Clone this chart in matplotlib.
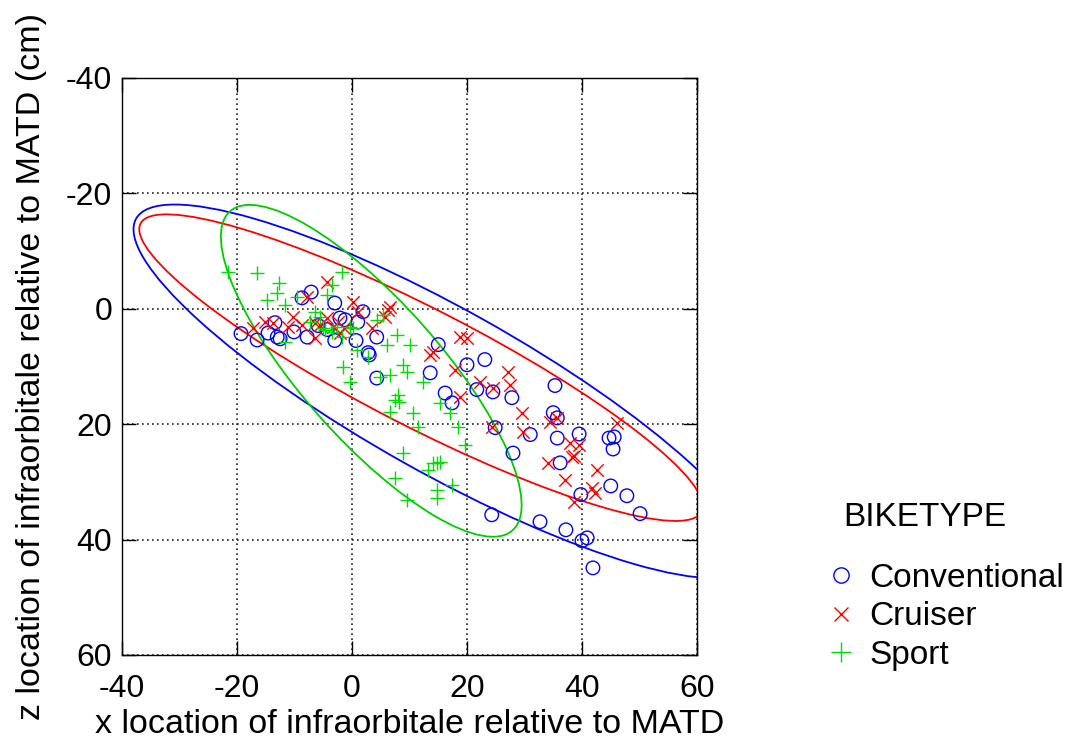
import numpy as np
import matplotlib
matplotlib.use("Agg")
import matplotlib.pyplot as plt
from matplotlib.patches import Ellipse
from matplotlib.lines import Line2D

plt.rcParams['font.family'] = ['Liberation Sans', 'DejaVu Sans']
plt.rcParams['axes.unicode_minus'] = False

# ---------------- data ----------------
conv_x = [-19.3, -16.5, -14.6, -13.4, -13.0, -12.5, -10.1, -8.7, -7.1, -7.8, -5.9, -4.3,
          -3.0, -3.0, -2.1, -1.2, 1.0, 1.9, 0.7, 2.8, 3.0, 4.3, 4.3,
          15.0, 13.6, 20.0, 23.1, 16.2, 17.4, 21.7, 24.5, 27.8, 24.9, 31.0, 28.0, 24.3, 32.7,
          35.3, 35.0, 35.7, 35.7, 39.5, 36.2, 44.7, 45.6, 45.4, 45.0, 47.8, 50.1, 39.8,
          37.2, 40.0, 40.9, 41.9]
conv_z = [4.3, 5.4, 4.2, 2.4, 4.9, 5.2, 4.0, -1.9, -2.9, 4.9, 2.9, 3.6,
          -1.0, 5.5, 1.6, 1.9, 2.3, 0.5, 5.5, 7.6, 8.0, 4.9, 12.0,
          6.2, 11.1, 9.7, 8.8, 14.6, 16.3, 14.0, 14.4, 15.4, 20.6, 21.8, 25.0, 35.7, 36.9,
          13.3, 18.0, 18.9, 22.4, 21.7, 26.7, 22.4, 22.2, 24.3, 30.7, 32.4, 35.5, 32.2,
          38.3, 40.2, 39.7, 44.9]

cruiser_x = [-17.2, -15.1, -13.7, -11.1, -10.3, -8.7, -7.8, -4.3, -6.4, -6.4, -5.6, -4.3,
             -3.3, -2.4, -2.1, -1.4, 0.2, 1.0, 3.5, 5.7, 6.3, 6.6,
             18.8, 20.0, 13.6, 14.1, 17.9, 22.3, 18.8, 24.5, 27.1, 27.5, 29.6, 24.3, 29.7,
             34.1, 34.4, 35.7, 37.0, 37.9, 39.5, 38.3, 38.6, 42.6, 41.7, 42.3, 38.6, 46.1]
cruiser_z = [3.3, 2.3, 2.4, 3.1, 1.4, 2.8, -2.1, -4.7, 5.0, 2.4, 2.8, 1.6,
             3.1, 2.3, 4.2, 3.3, -1.2, 0.5, 3.3, 1.4, 0.2, -0.3,
             4.9, 5.0, 8.0, 7.5, 10.6, 12.7, 15.3, 13.7, 10.9, 13.2, 18.0, 20.5, 21.3,
             26.7, 19.6, 18.9, 29.6, 23.2, 23.6, 25.6, 25.5, 27.9, 31.0, 31.9, 33.4, 19.8]

sport_x = [-21.6, -16.5, -12.7, -13.0, -14.8, -11.7, -9.6, -6.4, -1.7, -3.5, -4.3, -5.6,
           -5.0, -11.7, 0.9, -1.6, -0.3, 4.9, 4.3, -7.3, -4.7, -3.5, -2.6, -1.7, -0.3, 0.2,
           5.4, 7.8, 6.1, 10.1, 2.8, 8.9, 9.6, 6.6, 8.0, 7.5, 8.2, 6.6, 10.6,
           12.3, 15.3, 17.0, 11.5, 18.4, 19.7, 8.9, 14.1, 14.8, 15.3, 13.2, 7.5, 17.4,
           14.8, 14.8, 9.6]
sport_z = [-6.4, -6.2, -4.5, -2.8, -1.6, -0.7, -2.1, 0.5, -6.4, -4.2, -2.4, 1.4,
           3.3, 5.7, 7.1, 10.1, 12.7, 11.8, 1.9, 2.3, 3.6, 4.0, 3.1, 4.9, 3.1, 3.3,
           1.0, 4.5, 6.2, 6.2, 8.3, 9.7, 10.9, 11.4, 14.9, 15.8, 16.1, 17.9, 18.0,
           12.7, 16.3, 18.0, 20.5, 20.5, 23.6, 25.0, 26.7, 26.7, 26.5, 27.9, 29.3, 30.5,
           31.4, 32.8, 33.1]

# ellipse parameters: centre and covariance-like shape (Conventional, Cruiser, Sport)
ell_cx = [16.0, 12.0, 3.35]
ell_cz = [14.3, 10.2, 10.75]
ell_sxx = [2916.0, 2401.0, 684.0]
ell_sxz = [1516.0, 1176.0, 608.0]
ell_szz = [1048.0, 706.0, 827.0]

groups = ['Conventional', 'Cruiser', 'Sport']
legend_title = 'BIKETYPE'
x_ticks = [-40, -20, 0, 20, 40, 60]
z_ticks = [-40, -20, 0, 20, 40, 60]

# ---------------- styles ----------------
BLUE = '#0000FF'
RED = '#FF0000'
GREEN = '#00CC00'
MGREEN = '#00DD00'
FS = 24
LFS = 24.5
TFS = 23

fig = plt.figure(figsize=(10.74, 7.40), dpi=100)
ax = fig.add_axes([122/1074, 1-655/740, (697-122)/1074, (655-78)/740])

ax.set_xlim(-40, 60)
ax.set_ylim(60, -40)
ax.set_xticks(x_ticks)
ax.set_yticks(z_ticks)
ax.grid(True, linestyle=(0, (1, 2)), color='#222222', linewidth=1.2)
ax.set_axisbelow(True)
ax.tick_params(direction='in', length=10, width=1, top=True, right=True,
               labelsize=TFS)
ax.tick_params(axis='x', pad=14)
ax.tick_params(axis='y', pad=7)
for sp in ax.spines.values():
    sp.set_linewidth(1.0)
    sp.set_color('black')

# ellipses
colors = [BLUE, RED, GREEN]
for i in range(3):
    S = np.array([[ell_sxx[i], ell_sxz[i]], [ell_sxz[i], ell_szz[i]]])
    vals, vecs = np.linalg.eigh(S)
    order = np.argsort(vals)[::-1]
    vals = vals[order]
    vecs = vecs[:, order]
    ang = np.degrees(np.arctan2(vecs[1, 0], vecs[0, 0]))
    e = Ellipse((ell_cx[i], ell_cz[i]), 2*np.sqrt(vals[0]), 2*np.sqrt(vals[1]),
                angle=ang, fill=False, edgecolor=colors[i], linewidth=1.3, zorder=3)
    ax.add_patch(e)

ax.scatter(conv_x, conv_z, s=95, facecolors='none', edgecolors=BLUE, linewidths=1.0, zorder=4)
ax.scatter(cruiser_x, cruiser_z, s=80, marker='x', color=RED, linewidths=1.0, zorder=4)
ax.scatter(sport_x, sport_z, s=110, marker='+', color=MGREEN, linewidths=1.0, zorder=4)

ax.set_xlabel('x location of infraorbitale relative to MATD', fontsize=LFS, labelpad=3)
ax.set_ylabel('z location of infraorbitale relative to MATD (cm)', fontsize=LFS, labelpad=14)

handles = [
    Line2D([], [], linestyle='none', marker='o', markersize=11, markerfacecolor='none',
           markeredgecolor=BLUE, markeredgewidth=1.0),
    Line2D([], [], linestyle='none', marker='x', markersize=10, color=RED, markeredgewidth=1.0),
    Line2D([], [], linestyle='none', marker='+', markersize=14, color=MGREEN, markeredgewidth=1.0),
]
fig.text(843/1074, 1-517/740, legend_title, fontsize=FS, ha='left', va='center')
leg = fig.legend(handles, groups, loc='upper left',
                 bbox_to_anchor=(828/1074, 1-563/740), frameon=False, fontsize=FS,
                 handlelength=0.8, handletextpad=0.45, borderpad=0, borderaxespad=0,
                 labelspacing=0.22)

fig.savefig('out.png', dpi=100)
